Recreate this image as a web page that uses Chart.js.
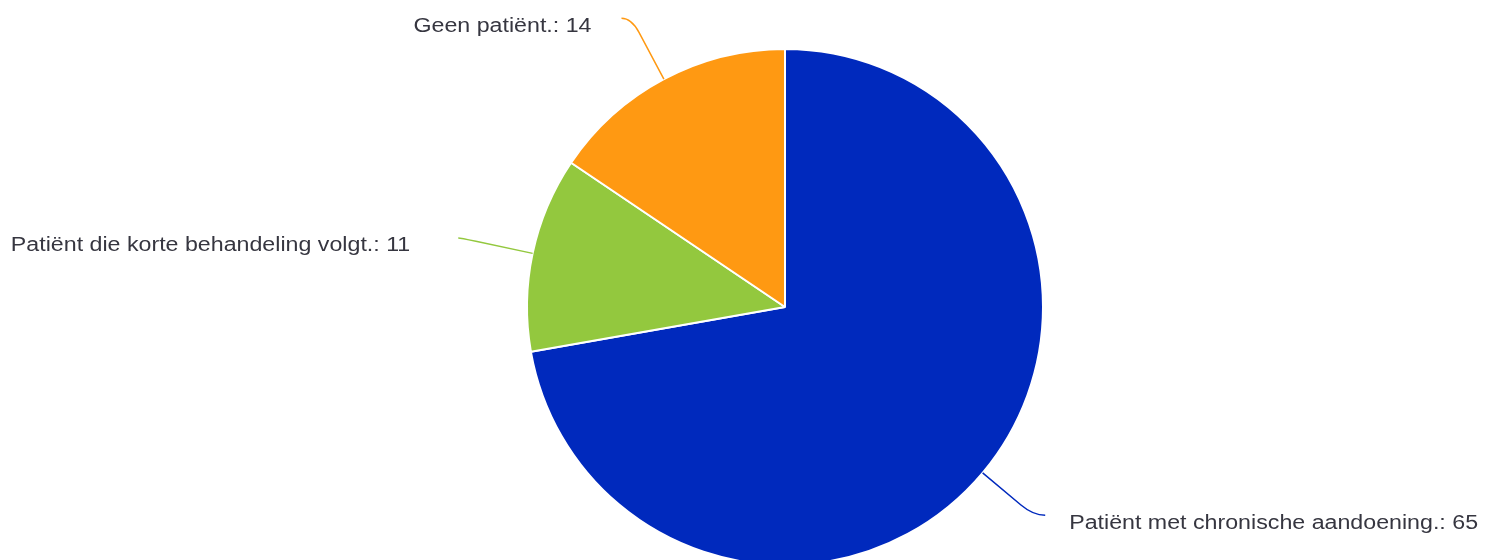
<!DOCTYPE html>
<html>
<head>
<meta charset="utf-8">
<script src="https://cdn.jsdelivr.net/npm/chart.js@4.4.0/dist/chart.umd.min.js"></script>
<style>
  html, body { margin: 0; padding: 0; background: #fff; overflow: hidden; }
</style>
</head>
<body>
<canvas id="myChart" width="1496" height="560"></canvas>
<script>
// data
const labels = ['Patiënt met chronische aandoening.', 'Patiënt die korte behandeling volgt.', 'Geen patiënt.'];
const counts = [65, 11, 14];
const colors = ['#0029bd', '#93c83e', '#ff9912'];

// leader line settings per slice (radial extension, horizontal tail, text gap)
const leaderExt = [66, 74, 69];
const leaderTail = [12, 2, 10];
const textGap = [24, 48, 30];

const calloutPlugin = {
  id: 'callouts',
  afterDatasetsDraw(chart) {
    const ctx = chart.ctx;
    const meta = chart.getDatasetMeta(0);
    meta.data.forEach((arc, i) => {
      const { x, y, startAngle, endAngle, outerRadius } = arc.getProps(['x', 'y', 'startAngle', 'endAngle', 'outerRadius'], true);
      const mid = (startAngle + endAngle) / 2;
      const dx = Math.cos(mid), dy = Math.sin(mid);
      const side = dx >= 0 ? 1 : -1;
      const ext = leaderExt[i];
      const ex = x + outerRadius * dx, ey = y + outerRadius * dy;
      const kx = x + (outerRadius + ext) * dx, ky = y + (outerRadius + ext) * dy;
      const bx = x + (outerRadius + ext - 16) * dx, by = y + (outerRadius + ext - 16) * dy;
      const hx = kx + side * leaderTail[i], hy = ky;

      ctx.save();
      ctx.strokeStyle = colors[i];
      ctx.lineWidth = 1.5;
      ctx.beginPath();
      ctx.moveTo(ex, ey);
      ctx.lineTo(bx, by);
      ctx.quadraticCurveTo(kx, ky, hx, hy);
      ctx.stroke();

      const text = labels[i] + ': ' + counts[i];
      const tx = hx + side * textGap[i];
      const ty = hy + 8;
      ctx.font = '20px "Liberation Sans", Arial, sans-serif';
      ctx.fillStyle = '#363640';
      ctx.textBaseline = 'middle';
      ctx.textAlign = side > 0 ? 'left' : 'right';
      ctx.translate(tx, ty);
      ctx.scale(1.16, 1);
      ctx.fillText(text, 0, 0);
      ctx.restore();
    });
  }
};

const ctx = document.getElementById('myChart').getContext('2d');
const myChart = new Chart(ctx, {
  type: 'pie',
  data: {
    labels: labels,
    datasets: [{
      data: counts,
      backgroundColor: colors,
      borderColor: '#ffffff',
      borderWidth: 2
    }]
  },
  options: {
    responsive: false,
    animation: false,
    radius: 258,
    layout: { padding: { top: 54, left: 74, right: 0, bottom: 0 } },
    plugins: {
      legend: { display: false },
      tooltip: { enabled: false }
    }
  },
  plugins: [calloutPlugin]
});
</script>
</body>
</html>
